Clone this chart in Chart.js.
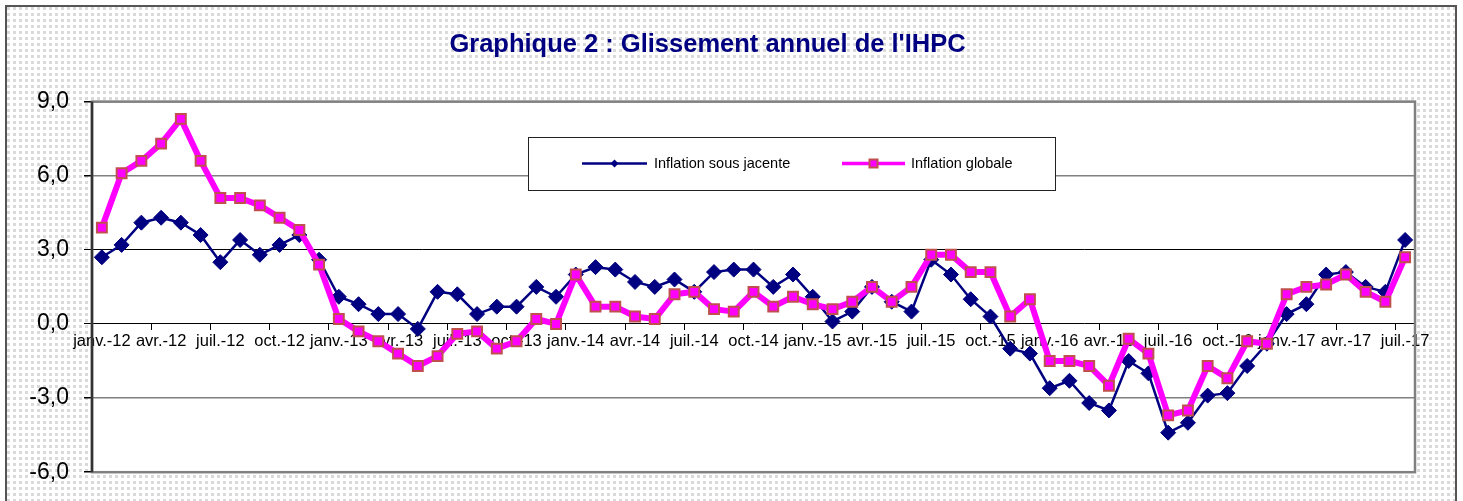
<!DOCTYPE html>
<html lang="fr">
<head>
<meta charset="utf-8">
<title>Glissement annuel de l'IHPC</title>
<script src="https://cdn.jsdelivr.net/npm/chart.js@4.4.1/dist/chart.umd.min.js"></script>
<style>
  html, body { margin: 0; padding: 0; background: #fff; overflow: hidden; }
  #cadre {
    position: absolute; left: 5px; top: 5px; width: 1448px; height: 496px;
    border: 2px solid #555; border-bottom: none;
    background-color: #fff;
    background-image: linear-gradient(to bottom, transparent 3px, #fff 3px),
                      linear-gradient(to right, #dadada 3px, #fff 3px);
    background-size: 6px 6px;
  }
  #zone { position: absolute; left: 0; top: 0; width: 1463px; height: 501px; }
</style>
</head>
<body>
<div id="cadre"></div>
<div id="zone"><canvas id="ihpcChart"></canvas></div>
<script>
const mois = [
  'janv.-12', 'févr.-12', 'mars-12', 'avr.-12', 'mai-12', 'juin-12', 'juil.-12', 'août-12', 'sept.-12', 'oct.-12', 'nov.-12', 'déc.-12',
  'janv.-13', 'févr.-13', 'mars-13', 'avr.-13', 'mai-13', 'juin-13', 'juil.-13', 'août-13', 'sept.-13', 'oct.-13', 'nov.-13', 'déc.-13',
  'janv.-14', 'févr.-14', 'mars-14', 'avr.-14', 'mai-14', 'juin-14', 'juil.-14', 'août-14', 'sept.-14', 'oct.-14', 'nov.-14', 'déc.-14',
  'janv.-15', 'févr.-15', 'mars-15', 'avr.-15', 'mai-15', 'juin-15', 'juil.-15', 'août-15', 'sept.-15', 'oct.-15', 'nov.-15', 'déc.-15',
  'janv.-16', 'févr.-16', 'mars-16', 'avr.-16', 'mai-16', 'juin-16', 'juil.-16', 'août-16', 'sept.-16', 'oct.-16', 'nov.-16', 'déc.-16',
  'janv.-17', 'févr.-17', 'mars-17', 'avr.-17', 'mai-17', 'juin-17', 'juil.-17'
];

const inflationSousJacente = [
  2.7, 3.2, 4.1, 4.3, 4.1, 3.6, 2.5, 3.4, 2.8, 3.2, 3.6, 2.6,
  1.1, 0.8, 0.4, 0.4, -0.2, 1.3, 1.2, 0.4, 0.7, 0.7, 1.5, 1.1,
  2.0, 2.3, 2.2, 1.7, 1.5, 1.8, 1.3, 2.1, 2.2, 2.2, 1.5, 2.0,
  1.1, 0.1, 0.5, 1.5, 0.9, 0.5, 2.6, 2.0, 1.0, 0.3, -1.0, -1.2,
  -2.6, -2.3, -3.2, -3.5, -1.5, -2.0, -4.4, -4.0, -2.9, -2.8, -1.7, -0.8,
  0.4, 0.8, 2.0, 2.1, 1.5, 1.3, 3.4
];

const inflationGlobale = [
  3.9, 6.1, 6.6, 7.3, 8.3, 6.6, 5.1, 5.1, 4.8, 4.3, 3.8, 2.4,
  0.2, -0.3, -0.7, -1.2, -1.7, -1.3, -0.4, -0.3, -1.0, -0.7, 0.2, 0.0,
  2.0, 0.7, 0.7, 0.3, 0.2, 1.2, 1.3, 0.6, 0.5, 1.3, 0.7, 1.1,
  0.8, 0.6, 0.9, 1.5, 0.9, 1.5, 2.8, 2.8, 2.1, 2.1, 0.3, 1.0,
  -1.5, -1.5, -1.7, -2.5, -0.6, -1.2, -3.7, -3.5, -1.7, -2.2, -0.7, -0.8,
  1.2, 1.5, 1.6, 2.0, 1.3, 0.9, 2.7
];

const graduationsY = [-6, -3, 0, 3, 6, 9];

Chart.defaults.font.family = "'Liberation Sans', Arial, sans-serif";
Chart.defaults.color = '#000';

// fond blanc + cadre gris de la zone de traçage
const zoneTrace = {
  id: 'zoneTrace',
  beforeDraw(chart) {
    const a = chart.chartArea;
    chart.ctx.save();
    chart.ctx.fillStyle = '#fff';
    chart.ctx.fillRect(a.left, a.top, a.right - a.left, a.bottom - a.top);
    chart.ctx.restore();
  },
  beforeDatasetsDraw(chart) {
    const a = chart.chartArea;
    const ctx = chart.ctx;
    ctx.save();
    ctx.lineWidth = 2.5;
    ctx.strokeStyle = '#808080';
    ctx.strokeRect(a.left, a.top, a.right - a.left, a.bottom - a.top);
    ctx.strokeStyle = '#333';
    ctx.beginPath();
    ctx.moveTo(a.left, a.top);
    ctx.lineTo(a.left, a.bottom);
    ctx.stroke();
    ctx.restore();
  }
};

// légende encadrée à l'intérieur du graphique
const legendeBoite = {
  id: 'legendeBoite',
  afterDraw(chart) {
    const ctx = chart.ctx;
    const x = 528, y = 137, w = 527, h = 53;
    const cy = y + h / 2;
    ctx.save();
    ctx.fillStyle = '#fff';
    ctx.fillRect(x, y, w, h);
    ctx.strokeStyle = '#222';
    ctx.lineWidth = 1;
    ctx.strokeRect(x + 0.5, y + 0.5, w, h);

    const places = [{ x0: 582, x1: 647, tx: 654 }, { x0: 842, x1: 905, tx: 911 }];
    chart.data.datasets.forEach((ds, i) => {
      const p = places[i];
      const mx = (p.x0 + p.x1) / 2;
      ctx.strokeStyle = ds.borderColor;
      ctx.lineWidth = i === 0 ? 2.5 : 3.5;
      ctx.beginPath();
      ctx.moveTo(p.x0, cy);
      ctx.lineTo(p.x1, cy);
      ctx.stroke();
      ctx.fillStyle = ds.pointBackgroundColor;
      ctx.strokeStyle = ds.pointBorderColor;
      ctx.lineWidth = ds.pointBorderWidth;
      ctx.beginPath();
      if (ds.pointStyle === 'rectRot') {
        ctx.moveTo(mx, cy - 4); ctx.lineTo(mx + 4, cy); ctx.lineTo(mx, cy + 4); ctx.lineTo(mx - 4, cy);
        ctx.closePath();
        ctx.fill();
      } else {
        ctx.rect(mx - 4, cy - 4, 8, 8);
        ctx.fill();
        ctx.stroke();
      }
      ctx.fillStyle = '#000';
      ctx.font = "14.5px 'Liberation Sans', Arial, sans-serif";
      ctx.textBaseline = 'middle';
      ctx.textAlign = 'left';
      ctx.fillText(ds.label, p.tx, cy);
    });
    ctx.restore();
  }
};

const ctx = document.getElementById('ihpcChart').getContext('2d');

new Chart(ctx, {
  type: 'line',
  data: {
    labels: mois,
    datasets: [
      {
        label: 'Inflation sous jacente',
        data: inflationSousJacente,
        borderColor: '#000080',
        borderWidth: 2.5,
        pointStyle: 'rectRot',
        pointRadius: 7.5,
        pointBackgroundColor: '#000080',
        pointBorderColor: '#000080',
        pointBorderWidth: 1,
        tension: 0,
        order: 1
      },
      {
        label: 'Inflation globale',
        data: inflationGlobale,
        borderColor: '#FF00FF',
        borderWidth: 6,
        borderJoinStyle: 'round',
        pointStyle: 'rect',
        pointRadius: 7,
        pointBackgroundColor: '#FF00FF',
        pointBorderColor: '#C0504D',
        pointBorderWidth: 2,
        tension: 0,
        order: 0
      }
    ]
  },
  options: {
    responsive: true,
    maintainAspectRatio: false,
    animation: false,
    layout: { padding: { left: 0, right: 48, top: 0, bottom: 26 } },
    plugins: {
      legend: { display: false },
      tooltip: { enabled: true },
      title: {
        display: true,
        text: "Graphique 2 : Glissement annuel de l'IHPC",
        color: '#000080',
        font: { size: 25.5, weight: 'bold' },
        padding: { top: 30, bottom: 41 }
      }
    },
    scales: {
      x: {
        type: 'category',
        position: { y: 0 },
        offset: true,
        border: { display: false },
        grid: {
          offset: true,
          drawOnChartArea: false,
          drawTicks: true,
          tickLength: 6,
          tickColor: c => (c.index % 3 === 0 ? '#000' : 'rgba(0,0,0,0)')
        },
        ticks: {
          autoSkip: false,
          maxRotation: 0,
          minRotation: 0,
          padding: 2,
          font: { size: 16.5 },
          color: '#000',
          callback: function(v, i) {
            return i % 3 === 0 ? this.getLabelForValue(v) : '';
          }
        }
      },
      y: {
        min: graduationsY[0],
        max: graduationsY[graduationsY.length - 1],
        afterFit(scale) { scale.width = 92; },
        afterBuildTicks(scale) { scale.ticks = graduationsY.map(v => ({ value: v })); },
        border: { display: false },
        grid: {
          color: c => (c.tick && (c.tick.value === 3 || c.tick.value === 0) ? '#000' : '#808080'),
          lineWidth: c => (c.tick && (c.tick.value === 3 || c.tick.value === 0) ? 1 : 1.5),
          tickLength: 8,
          tickColor: '#000'
        },
        ticks: {
          padding: 15,
          font: { size: 23 },
          color: '#000',
          callback: v => v.toFixed(1).replace('.', ',')
        }
      }
    }
  },
  plugins: [zoneTrace, legendeBoite]
});
</script>
</body>
</html>
